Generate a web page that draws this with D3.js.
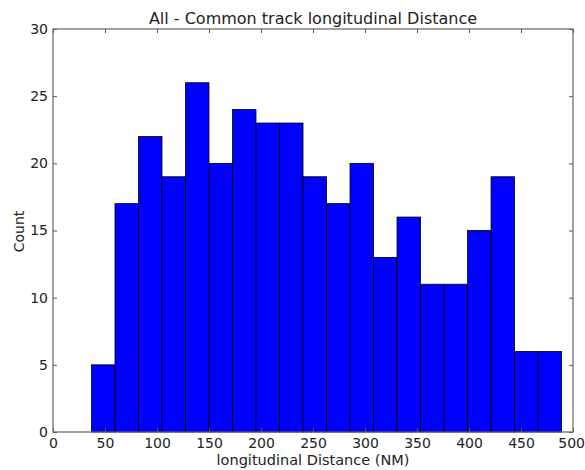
<!DOCTYPE html>
<html>
<head>
<meta charset="utf-8">
<script src="https://cdn.jsdelivr.net/npm/d3@7"></script>
<style>
  body { margin: 0; background: #fff; }
  text { font-family: "DejaVu Sans", sans-serif; fill: #222; }
</style>
</head>
<body>
<div id="box-div"></div>
<script>
// histogram bins
const binStart = 37;
const binEnd = 489;
const counts = [5, 17, 22, 19, 26, 20, 24, 23, 23, 19, 17, 20, 13, 16, 11, 11, 15, 19, 6, 6];
const xTicks = [0, 50, 100, 150, 200, 250, 300, 350, 400, 450, 500];
const yTicks = [0, 5, 10, 15, 20, 25, 30];

const dms = {
    width: 585,
    height: 470,
    margin: { top: 29, right: 12, bottom: 38, left: 53 }
};
dms.contentWidth = dms.width - dms.margin.left - dms.margin.right;
dms.contentHeight = dms.height - dms.margin.top - dms.margin.bottom;

const box = d3.select('#box-div').append('svg')
    .attr('width', dms.width)
    .attr('height', dms.height);

const content = box.append('g')
    .attr('transform', `translate(${dms.margin.left},${dms.margin.top})`);

const x = d3.scaleLinear().domain([0, 500]).range([0, dms.contentWidth]);
const y = d3.scaleLinear().domain([0, 30]).range([dms.contentHeight, 0]);

const binW = (binEnd - binStart) / counts.length;
const bins = counts.map((c, i) => ({ x0: binStart + i * binW, x1: binStart + (i + 1) * binW, n: c }));

content.append('g').selectAll('rect')
    .data(bins)
    .join('rect')
    .attr('x', d => x(d.x0))
    .attr('y', d => y(d.n))
    .attr('width', d => x(d.x1) - x(d.x0))
    .attr('height', d => y(0) - y(d.n))
    .attr('fill', '#0000ff')
    .attr('stroke', '#000')
    .attr('stroke-width', 0.8);

// ticks inward on all four sides, matplotlib classic style
const tl = 4;
const axB = content.append('g').attr('transform', `translate(0,${dms.contentHeight})`)
    .call(d3.axisBottom(x).tickValues(xTicks).tickSizeInner(-tl).tickSizeOuter(0).tickPadding(6));
const axT = content.append('g')
    .call(d3.axisTop(x).tickValues(xTicks).tickSizeInner(-tl).tickSizeOuter(0).tickFormat(''));
const axL = content.append('g')
    .call(d3.axisLeft(y).tickValues(yTicks).tickSizeInner(-tl).tickSizeOuter(0).tickPadding(5));
const axR = content.append('g').attr('transform', `translate(${dms.contentWidth},0)`)
    .call(d3.axisRight(y).tickValues(yTicks).tickSizeInner(-tl).tickSizeOuter(0).tickFormat(''));

[axB, axT, axL, axR].forEach(a => {
    a.select('.domain').remove();
    a.selectAll('line').attr('stroke', '#555');
    a.selectAll('text').style('font-size', '14px').style('font-family', '"DejaVu Sans", sans-serif').attr('fill', '#333');
});

// last x label sits against the page edge, keep it inside
axB.selectAll('.tick text').filter(d => d === 500)
    .attr('text-anchor', 'end')
    .attr('x', 11.5);

content.append('rect')
    .attr('width', dms.contentWidth)
    .attr('height', dms.contentHeight)
    .attr('fill', 'none')
    .attr('stroke', '#666')
    .attr('stroke-width', 1.2);

box.append('text')
    .attr('x', dms.margin.left + dms.contentWidth / 2)
    .attr('y', 24)
    .attr('text-anchor', 'middle')
    .style('font-size', '16px')
    .text('All - Common track longitudinal Distance');

box.append('text')
    .attr('x', dms.margin.left + dms.contentWidth / 2)
    .attr('y', 465)
    .attr('text-anchor', 'middle')
    .style('font-size', '14.5px')
    .text('longitudinal Distance (NM)');

box.append('text')
    .attr('transform', `translate(24,${dms.margin.top + dms.contentHeight / 2 + 1}) rotate(-90)`)
    .attr('text-anchor', 'middle')
    .style('font-size', '14px')
    .text('Count');
</script>
</body>
</html>
